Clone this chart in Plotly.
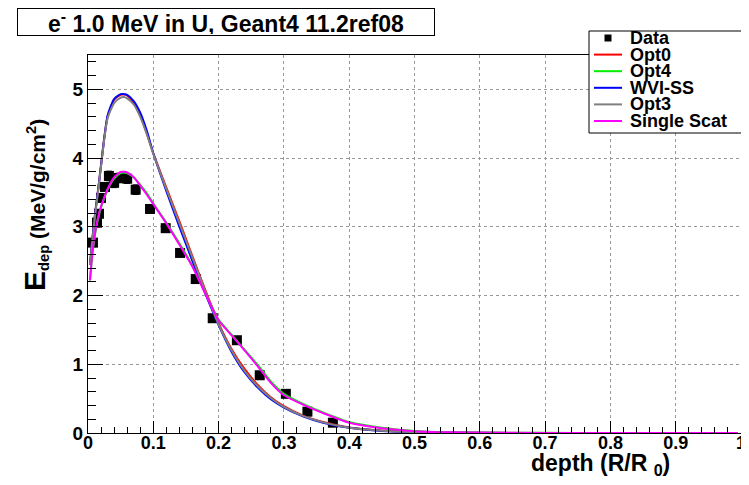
import plotly.graph_objects as go

# ---- data ----
data_x = [0.0076, 0.0138, 0.0168, 0.0199, 0.026, 0.032, 0.040, 0.047, 0.060, 0.073,
          0.095, 0.119, 0.141, 0.165, 0.191, 0.228, 0.263, 0.303, 0.336, 0.375]
data_y = [2.77, 3.06, 3.19, 3.42, 3.58, 3.74, 3.64, 3.71, 3.70, 3.54,
          3.26, 2.98, 2.62, 2.24, 1.67, 1.35, 0.84, 0.57, 0.31, 0.15]
data_err = [0.06, 0.06, 0.06, 0.06, 0.06, 0.07, 0.07, 0.07, 0.07, 0.07,
            0.06, 0.06, 0.05, 0.05, 0.04, 0.04, 0.03, 0.03, 0.02, 0.02]

sim_x = [0.003, 0.007, 0.011, 0.015, 0.02, 0.025, 0.03, 0.04, 0.05, 0.055, 0.06, 0.07, 0.08,
         0.09, 0.10, 0.12, 0.14, 0.16, 0.18, 0.20, 0.22, 0.24, 0.26, 0.28, 0.30, 0.33, 0.36,
         0.40, 0.45, 0.50, 0.55, 0.60, 0.70, 0.80, 0.90, 0.995]

opt0 = [2.45, 2.85, 3.2, 3.5, 3.9, 4.3, 4.6, 4.85, 4.92, 4.93, 4.91, 4.8, 4.62,
        4.36, 4.07, 3.57, 3.08, 2.57, 2.07, 1.60, 1.22, 0.93, 0.70, 0.52, 0.39, 0.25, 0.16,
        0.08, 0.035, 0.014, 0.005, 0.002, 0.001, 0, 0, 0]
opt4 = [2.22, 2.62, 2.9, 3.1, 3.28, 3.42, 3.54, 3.7, 3.78, 3.79, 3.78, 3.72, 3.61,
        3.49, 3.34, 3.06, 2.76, 2.43, 2.03, 1.65, 1.43, 1.21, 0.99, 0.75, 0.57, 0.42, 0.30,
        0.16, 0.075, 0.03, 0.012, 0.005, 0.002, 0, 0, 0]
wvi_ss = [2.45, 2.85, 3.2, 3.5, 3.9, 4.3, 4.62, 4.86, 4.93, 4.93, 4.92, 4.83, 4.66,
          4.40, 4.07, 3.52, 3.0, 2.5, 2.02, 1.57, 1.18, 0.88, 0.66, 0.49, 0.37, 0.24, 0.15,
          0.075, 0.03, 0.012, 0.005, 0.002, 0.001, 0, 0, 0]
opt3 = [2.45, 2.83, 3.18, 3.48, 3.88, 4.28, 4.58, 4.8, 4.88, 4.89, 4.87, 4.78, 4.6,
        4.35, 4.06, 3.55, 3.05, 2.55, 2.05, 1.58, 1.2, 0.9, 0.68, 0.51, 0.38, 0.245, 0.155,
        0.078, 0.033, 0.013, 0.005, 0.002, 0.001, 0, 0, 0]
single_scat = [2.22, 2.64, 2.92, 3.12, 3.3, 3.43, 3.55, 3.72, 3.8, 3.8, 3.79, 3.72, 3.6,
               3.47, 3.33, 3.05, 2.74, 2.42, 2.02, 1.64, 1.42, 1.2, 0.97, 0.73, 0.55, 0.41, 0.29,
               0.15, 0.07, 0.027, 0.01, 0.004, 0.001, 0, 0, 0]

x_tickvals = [0, 0.1, 0.2, 0.3, 0.4, 0.5, 0.6, 0.7, 0.8, 0.9, 1.0]
x_ticktext = ["0", "0.1", "0.2", "0.3", "0.4", "0.5", "0.6", "0.7", "0.8", "0.9", "1"]
y_tickvals = [0, 1, 2, 3, 4, 5]
y_ticktext = ["0", "1", "2", "3", "4", "5"]

series_names = ["Opt0", "Opt4", "WVI-SS", "Opt3", "Single Scat"]
series_values = [opt0, opt4, wvi_ss, opt3, single_scat]
series_colors = ["#ff0000", "#00ee00", "#0000ff", "#7f7f7f", "#ff00ff"]

FONT = "Liberation Sans, Arial, Helvetica, sans-serif"

fig = go.Figure()
fig.add_trace(go.Scatter(
    x=data_x, y=data_y, mode="markers", name="Data", showlegend=False,
    marker=dict(symbol="square", size=10, color="black"),
    error_y=dict(type="data", array=data_err, color="black", thickness=1, width=3),
))
for name, ys, col in zip(series_names, series_values, series_colors):
    fig.add_trace(go.Scatter(x=sim_x, y=ys, mode="lines", name=name, showlegend=False,
                             line=dict(color=col, width=2, shape="spline", smoothing=0.6)))

# page is rendered with an 8px body margin; work in page pixels
OFF = 8
W, H = 741, 477
L, R, T, B = 80, 8, 47, 52
pw, ph = W - L - R, H - T - B


def px_x(p):
    return (p - OFF - L) / pw


def px_y(p):
    return (H - B - (p - OFF)) / ph


fig.update_layout(
    width=W, height=H,
    margin=dict(l=L, r=R, t=T, b=B, autoexpand=False),
    paper_bgcolor="white", plot_bgcolor="white",
    font=dict(family=FONT, size=16, color="black", weight="bold"),
    showlegend=False,
    xaxis=dict(range=[0, 1], tickvals=x_tickvals, ticktext=x_ticktext, tickangle=0,
               showline=True, linecolor="black", linewidth=1, mirror=True,
               ticks="inside", ticklen=12, tickcolor="black", ticklabelstandoff=-7,
               minor=dict(dtick=0.02, ticks="inside", ticklen=6, tickcolor="black", showgrid=False),
               showgrid=True, gridcolor="#999999", griddash="dot", gridwidth=1,
               zeroline=False, automargin=False,
               tickfont=dict(family=FONT, size=18, weight="bold")),
    yaxis=dict(range=[0, 5.5], tickvals=y_tickvals, ticktext=y_ticktext,
               showline=True, linecolor="black", linewidth=1, mirror=True,
               ticks="inside", ticklen=15, tickcolor="black",
               minor=dict(dtick=0.2, ticks="inside", ticklen=8, tickcolor="black", showgrid=False),
               showgrid=True, gridcolor="#999999", griddash="dot", gridwidth=1,
               zeroline=False, automargin=False,
               tickfont=dict(family=FONT, size=19, weight="bold")),
)

# Title box
fig.add_annotation(
    xref="paper", yref="paper", x=px_x(17), y=px_y(8), xanchor="left", yanchor="top",
    text="e<sup>-</sup> 1.0 MeV in U, Geant4 11.2ref08", showarrow=False,
    font=dict(family=FONT, size=23, weight="bold", color="black"),
    bordercolor="black", borderwidth=1, bgcolor="white", width=414, height=24,
    align="center", valign="middle",
)
# Axis titles
fig.add_annotation(
    xref="paper", yref="paper", x=px_x(672), y=px_y(464), xanchor="right", yanchor="middle",
    text="depth (R/R <sub>0</sub>)", showarrow=False,
    font=dict(family=FONT, size=23, weight="bold", color="black"),
)
fig.add_annotation(
    xref="paper", yref="paper", x=px_x(16), y=px_y(205), xanchor="left", yanchor="middle",
    text="<span style=\"font-size:30px\">E</span><sub>dep</sub> (MeV/g/cm<sup>2</sup>)",
    showarrow=False, textangle=-90,
    font=dict(family=FONT, size=21, weight="bold", color="black"),
)

# Legend (drawn manually to match the compact ROOT legend)
lx0, lx1, ly0, ly1 = 589, 744, 31, 133
fig.add_shape(type="rect", xref="paper", yref="paper",
              x0=px_x(lx0), x1=px_x(lx1), y0=px_y(ly1), y1=px_y(ly0),
              line=dict(color="black", width=1), fillcolor="white", layer="above")
entry_names = ["Data"] + series_names
entry_y = [38 + 16.6 * i for i in range(len(entry_names))]
for i, (nm, ey) in enumerate(zip(entry_names, entry_y)):
    if i == 0:
        fig.add_shape(type="rect", xref="paper", yref="paper",
                      x0=px_x(604.5), x1=px_x(611.5), y0=px_y(ey + 3.5), y1=px_y(ey - 3.5),
                      line=dict(color="black", width=0), fillcolor="black", layer="above")
    else:
        fig.add_shape(type="line", xref="paper", yref="paper",
                      x0=px_x(594), x1=px_x(622), y0=px_y(ey), y1=px_y(ey),
                      line=dict(color=series_colors[i - 1], width=2), layer="above")
    fig.add_annotation(xref="paper", yref="paper", x=px_x(628), y=px_y(ey),
                       xanchor="left", yanchor="middle", text=nm, showarrow=False,
                       font=dict(family=FONT, size=18, weight="bold", color="black"))

fig.write_html("out.html")
